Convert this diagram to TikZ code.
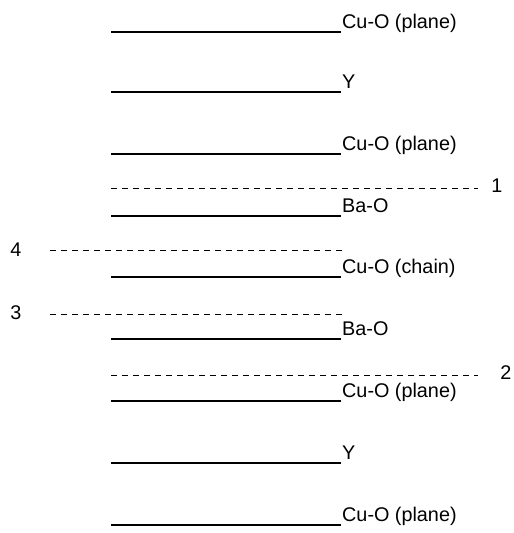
\documentclass[tikz,border=0pt]{standalone}
\usepackage{fontspec}
\setmainfont{Liberation Sans}
\begin{document}
\begin{tikzpicture}[x=1pt,y=-1pt,
  layer/.style={line width=1.3pt},
  cut/.style={line width=0.8pt, dash pattern=on 6pt off 5pt},
  lbl/.style={anchor=base west, inner sep=0pt, font=\fontsize{19.8}{22}\selectfont},
  num/.style={inner sep=0pt, font=\fontsize{19.8}{22}\selectfont}]
\useasboundingbox (0,0) rectangle (514,533);
% solid layers
\foreach \y/\t [count=\i] in {32/Cu-O (plane), 92/Y, 154/Cu-O (plane), 216/Ba-O, 277/Cu-O (chain), 339/Ba-O, 401/Cu-O (plane), 463/Y, 525/Cu-O (plane)}{
  \coordinate (s\i a) at (111,\y);
  \coordinate (s\i b) at (341,\y);
  \draw[layer] (s\i a) -- (s\i b);
  \node[lbl] (t\i) at (342,\y-3.5) {\t};
}
% dashed cleavage planes
\coordinate (d1a) at (111,188); \coordinate (d1b) at (478,188);
\draw[cut] (d1a) -- (d1b);
\node[num] (n1) at (497,186) {1};
\coordinate (d4a) at (50,250); \coordinate (d4b) at (343,250);
\draw[cut] (d4a) -- (d4b);
\node[num] (n4) at (16,250) {4};
\coordinate (d3a) at (50,314); \coordinate (d3b) at (343,314);
\draw[cut] (d3a) -- (d3b);
\node[num] (n3) at (16,313) {3};
\coordinate (d2a) at (111,375); \coordinate (d2b) at (478,375);
\draw[cut] (d2a) -- (d2b);
\node[num] (n2) at (506,373) {2};
\end{tikzpicture}
\end{document}
